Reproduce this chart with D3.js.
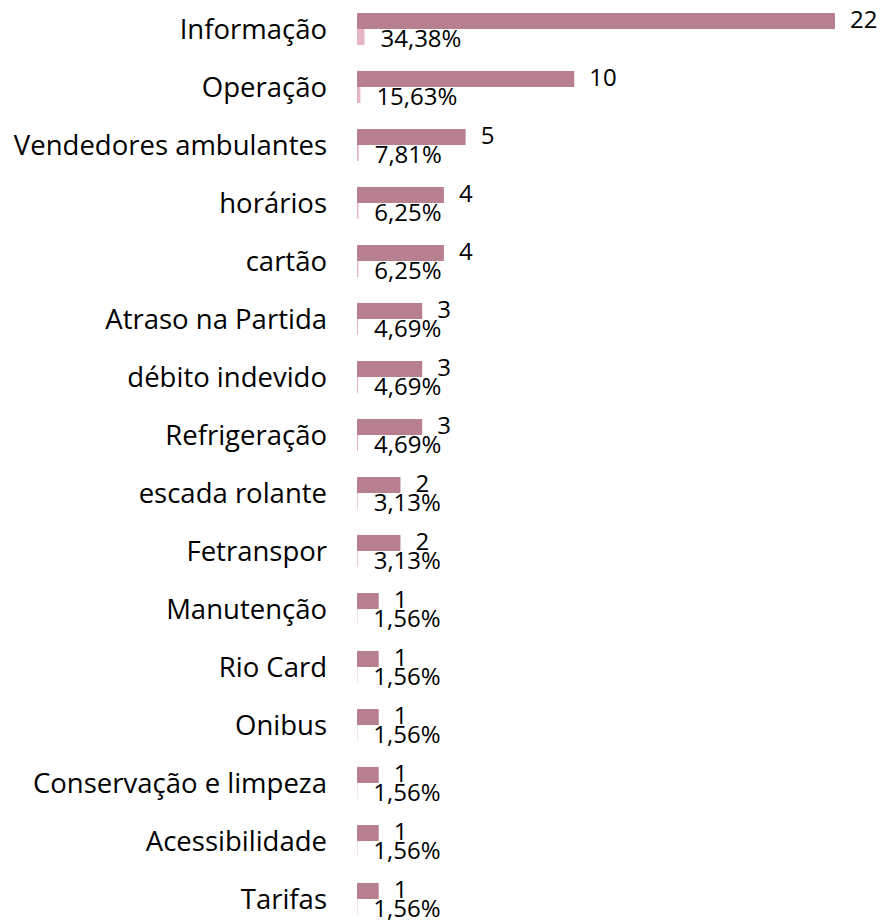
<!DOCTYPE html>
<html lang="pt">
<head>
    <meta charset="utf-8">
    <title>Reclamações por assunto</title>
    <script src="https://d3js.org/d3.v7.min.js"></script>
    <style>
        * { margin: 0; padding: 0; }
        body { background: white; width: 881px; height: 920px; overflow: hidden; }
        text { font-family: "Open Sans", "Noto Sans", sans-serif; fill: #000; }
    </style>
</head>
<body>
<div id="container"></div>
<script>
    const categories = ["Informação", "Operação", "Vendedores ambulantes", "horários", "cartão",
        "Atraso na Partida", "débito indevido", "Refrigeração", "escada rolante", "Fetranspor",
        "Manutenção", "Rio Card", "Onibus", "Conservação e limpeza", "Acessibilidade", "Tarifas"];
    const counts = [22, 10, 5, 4, 4, 3, 3, 3, 2, 2, 1, 1, 1, 1, 1, 1];
    const shares = [0.3438, 0.1563, 0.0781, 0.0625, 0.0625, 0.0469, 0.0469, 0.0469,
        0.0313, 0.0313, 0.0156, 0.0156, 0.0156, 0.0156, 0.0156, 0.0156];

    const w = 881, h = 920;
    const barH = 16;

    const svg = d3.select("#container").append("svg")
        .attr("width", w).attr("height", h);

    const x = d3.scaleLinear().domain([0, 22]).range([357, 835]);
    const y = d3.scalePoint().domain(categories).range([29, 899]);

    const fmtPct = v => (v * 100).toFixed(2).replace(".", ",") + "%";

    // count bars
    svg.selectAll("rect.count")
        .data(categories)
        .enter().append("rect")
        .attr("class", "count")
        .attr("x", x(0))
        .attr("y", d => y(d) - barH)
        .attr("width", (d, i) => x(counts[i]) - x(0))
        .attr("height", barH)
        .attr("fill", "#b8808f");

    // share bars (same axis, so they stay tiny)
    svg.selectAll("rect.share")
        .data(categories)
        .enter().append("rect")
        .attr("class", "share")
        .attr("x", x(0))
        .attr("y", d => y(d))
        .attr("width", (d, i) => x(shares[i]) - x(0))
        .attr("height", barH)
        .attr("fill", "#e4b5c4");

    // category labels
    svg.selectAll("text.cat")
        .data(categories)
        .enter().append("text")
        .attr("class", "cat")
        .attr("x", 327)
        .attr("y", d => y(d))
        .attr("dy", "0.35em")
        .attr("text-anchor", "end")
        .attr("font-size", 27.5)
        .text(d => d);

    svg.selectAll("text.cnt")
        .data(categories)
        .enter().append("text")
        .attr("class", "cnt")
        .attr("x", (d, i) => x(counts[i]) + 15)
        .attr("y", d => y(d) - barH / 2 - 1)
        .attr("dy", "0.35em")
        .attr("font-size", 24)
        .text((d, i) => counts[i]);

    svg.selectAll("text.pct")
        .data(categories)
        .enter().append("text")
        .attr("class", "pct")
        .attr("x", (d, i) => x(shares[i]) + 16)
        .attr("y", d => y(d) + barH / 2 + 2)
        .attr("dy", "0.35em")
        .attr("font-size", 24)
        .text((d, i) => fmtPct(shares[i]));
</script>
</body>
</html>
